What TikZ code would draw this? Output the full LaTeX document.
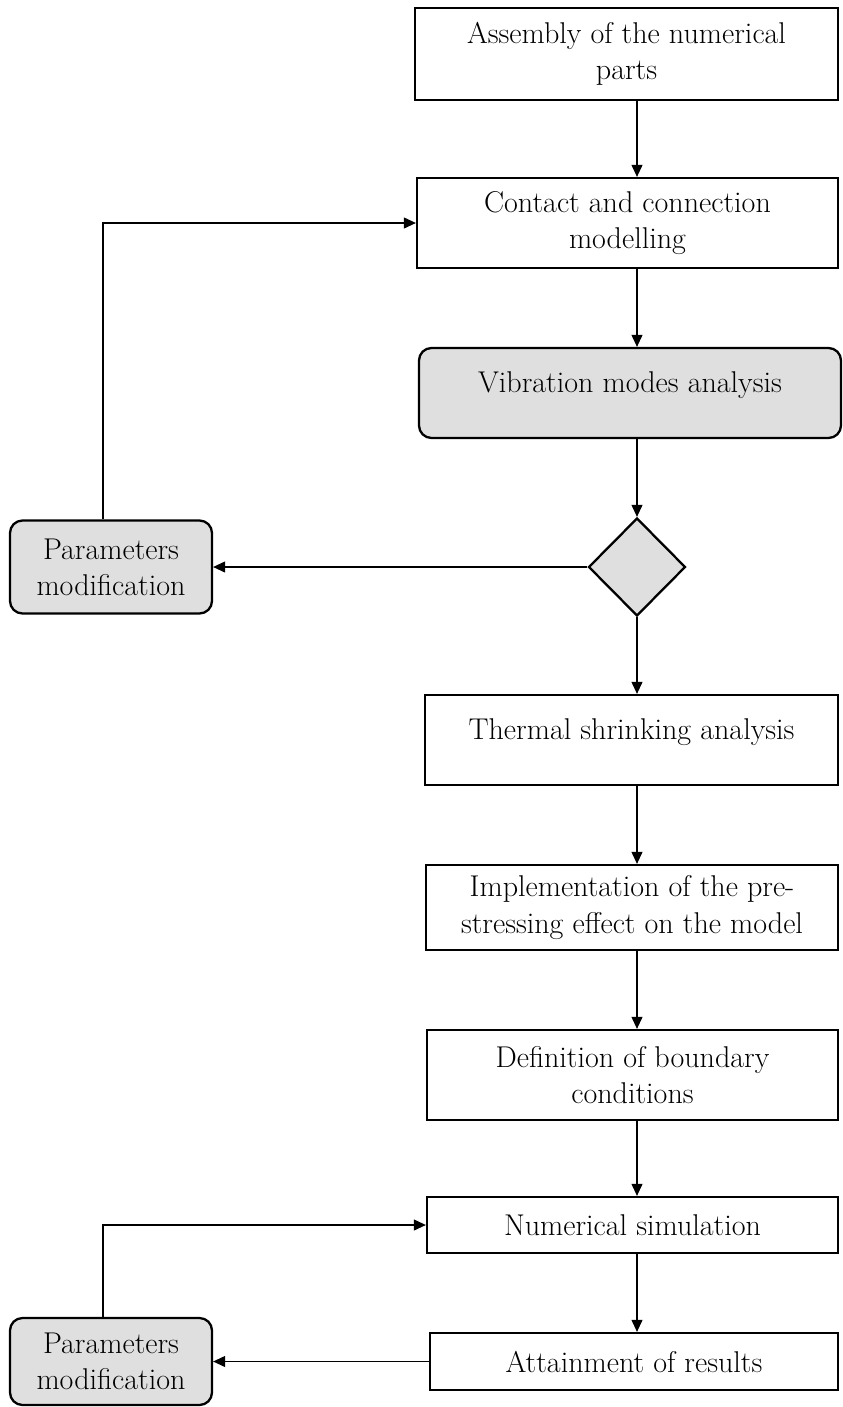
\documentclass[tikz,border=0pt]{standalone}
\usepackage{amsmath}
\usepackage{tikz}
\usetikzlibrary{positioning, shapes.geometric, arrows.meta}

\begin{document}
\begin{tikzpicture}[auto, every loop/.style={},
  step node/.style={rectangle,draw,line width=1.3pt,align=center,inner sep=2pt,
    font=\fontsize{17.1}{20.5}\selectfont},
  grey node/.style={step node,rounded corners=0.25cm,fill=gray!25},
  decision node/.style={diamond,draw,line width=1.3pt,fill=gray!25,aspect=1,
    minimum width=1.94cm,minimum height=1.96cm,inner sep=0pt},
  arr/.style={line width=0.6pt,-{Triangle[length=0.24cm,width=0.22cm]}}]

\useasboundingbox (0,0) rectangle (16.86,-28.14);

\node[step node, minimum width=8.46cm, minimum height=1.84cm] (assembly) at (12.53,-1.08) {Assembly of the numerical\\parts};
\node[step node, minimum width=8.42cm, minimum height=1.80cm] (contact) at (12.55,-4.46) {Contact and connection\\modelling};
\node[grey node, minimum width=8.44cm, minimum height=1.80cm] (vibration) at (12.60,-7.86) {\raisebox{0.44cm}{Vibration modes analysis}};
\node[decision node] (check) at (12.74,-11.34) {};
\node[grey node, minimum width=4.04cm, minimum height=1.86cm] (param1) at (2.22,-11.34) {Parameters\\modification};
\node[step node, minimum width=8.26cm, minimum height=1.80cm] (thermal) at (12.63,-14.80) {\raisebox{0.44cm}{Thermal shrinking analysis}};
\node[step node, minimum width=8.24cm, minimum height=1.70cm] (prestress) at (12.64,-18.15) {Implementation of the pre-\\stressing effect on the model};
\node[step node, minimum width=8.22cm, minimum height=1.80cm] (boundary) at (12.65,-21.50) {Definition of boundary\\conditions};
\node[step node, minimum width=8.22cm, minimum height=1.12cm] (simulation) at (12.65,-24.50) {Numerical simulation};
\node[step node, minimum width=8.16cm, minimum height=1.14cm] (results) at (12.68,-27.23) {Attainment of results};
\node[grey node, minimum width=4.04cm, minimum height=1.74cm] (param2) at (2.22,-27.23) {Parameters\\modification};

\draw[arr] (assembly.south -| check) -- (contact.north -| check);
\draw[arr] (contact.south -| check) -- (vibration.north -| check);
\draw[arr] (vibration.south -| check) -- (check.north);
\draw[arr] (check.south) -- (thermal.north -| check);
\draw[arr] (thermal.south -| check) -- (prestress.north -| check);
\draw[arr] (prestress.south -| check) -- (boundary.north -| check);
\draw[arr] (boundary.south -| check) -- (simulation.north -| check);
\draw[arr] (simulation.south -| check) -- (results.north -| check);

% feedback loops
\draw[arr] (check.west) -- (param1.east);
\draw[arr] ([xshift=-0.16cm]param1.north) |- (contact.west);
\draw[arr] (results.west) -- (param2.east);
\draw[arr] ([xshift=-0.16cm]param2.north) |- (simulation.west);

\end{tikzpicture}
\end{document}
